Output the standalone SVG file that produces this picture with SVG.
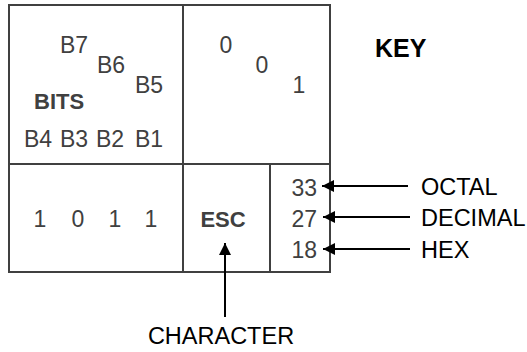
<svg xmlns="http://www.w3.org/2000/svg" width="527" height="352" viewBox="0 0 527 352">
<style>
.box{fill:none;stroke:#404040;stroke-width:2}
.g{font-family:"Liberation Sans",Arial,sans-serif;font-size:23px;fill:#404040}
.gb{font-family:"Liberation Sans",Arial,sans-serif;font-size:22px;font-weight:bold;fill:#404040}
.k{font-family:"Liberation Sans",Arial,sans-serif;font-size:23.5px;fill:#000}
.kb{font-family:"Liberation Sans",Arial,sans-serif;font-size:25px;font-weight:bold;fill:#000}
.c{stroke:#000;stroke-width:2;fill:none}
.m{text-anchor:middle}
.e{text-anchor:end}
</style>
<defs>
<marker id="ah" viewBox="0 0 12 12" refX="12" refY="6" markerWidth="12" markerHeight="12" markerUnits="userSpaceOnUse" orient="auto">
<path d="M0,0 L12,6 L0,12 Z" fill="#000"/>
</marker>
</defs>
<g id="table">
<rect class="box" x="9" y="5" width="321" height="267"/>
<line class="box" x1="183" y1="5" x2="183" y2="272"/>
<line class="box" x1="9" y1="164" x2="330" y2="164"/>
<line class="box" x1="270" y1="164" x2="270" y2="272"/>
</g>
<g id="bits">
<text class="g" x="60" y="53">B7</text>
<text class="g" x="97" y="73">B6</text>
<text class="g" x="135" y="93">B5</text>
<text class="gb" x="34" y="109">BITS</text>
<text class="g" x="24" y="147">B4</text>
<text class="g" x="60" y="147">B3</text>
<text class="g" x="96" y="147">B2</text>
<text class="g" x="135" y="147">B1</text>
</g>
<g id="zone">
<text class="g m" x="226" y="53">0</text>
<text class="g m" x="262" y="73">0</text>
<text class="g m" x="299" y="93">1</text>
</g>
<g id="bitvalues">
<text class="g m" x="40" y="227">1</text>
<text class="g m" x="78" y="227">0</text>
<text class="g m" x="115" y="227">1</text>
<text class="g m" x="151" y="227">1</text>
</g>
<g id="char">
<text class="gb m" x="223" y="227">ESC</text>
</g>
<g id="codes">
<text class="g e" x="317" y="196">33</text>
<text class="g e" x="317" y="227">27</text>
<text class="g e" x="317" y="258">18</text>
</g>
<g id="key">
<text class="kb" x="375" y="57">KEY</text>
<text class="k" x="421" y="195">OCTAL</text>
<text class="k" x="421" y="226">DECIMAL</text>
<text class="k" x="421" y="258">HEX</text>
<text class="k m" x="221" y="344">CHARACTER</text>
</g>
<g id="connectors">
<line class="c" x1="408" y1="186" x2="322" y2="186" marker-end="url(#ah)"/>
<line class="c" x1="410" y1="217" x2="323" y2="217" marker-end="url(#ah)"/>
<line class="c" x1="410" y1="249" x2="323" y2="249" marker-end="url(#ah)"/>
<line class="c" x1="225" y1="317" x2="225" y2="243" marker-end="url(#ah)"/>
</g>
</svg>
